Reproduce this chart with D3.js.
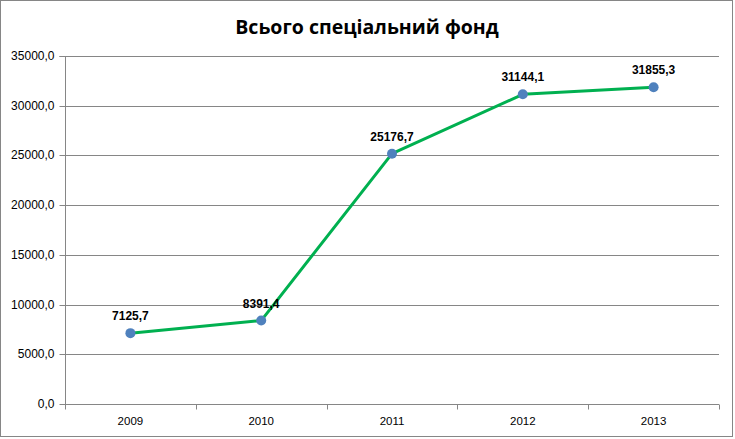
<!DOCTYPE html>
<html><head><meta charset="utf-8">
<script src="https://cdn.jsdelivr.net/npm/d3@7"></script>
<style>body{margin:0;background:#fff}svg{display:block}</style>
</head><body>
<script>
const title = "Всього спеціальний фонд";
const categories = ["2009","2010","2011","2012","2013"];
const values = [7125.7, 8391.4, 25176.7, 31144.1, 31855.3];
const yTicks = [0,5000,10000,15000,20000,25000,30000,35000];

const W = 735, H = 439;
const m = {left:65, right:16, top:56, bottom:35};
const svg = d3.select("body").append("svg").attr("width",W).attr("height",H);
svg.append("rect").attr("x",0.5).attr("y",0.5).attr("width",W-3).attr("height",H-3)
  .attr("fill","#fff").attr("stroke","#868686");

const fmt = v => d3.format(".1f")(v).replace(".", ",");
const x = d3.scaleBand().domain(categories).range([m.left, W-m.right]);
const y = d3.scaleLinear().domain([0,35000]).range([H-m.bottom, m.top]);
const font = "Liberation Sans, Arial, sans-serif";

// grid
svg.append("g").selectAll("line").data(yTicks.filter(d=>d>0)).join("line")
  .attr("x1",m.left).attr("x2",W-m.right)
  .attr("y1",d=>Math.round(y(d))+0.5).attr("y2",d=>Math.round(y(d))+0.5)
  .attr("stroke","#868686");

// y axis
const ya = svg.append("g").attr("transform",`translate(${m.left+0.5},0.5)`)
  .call(d3.axisLeft(y).tickValues(yTicks).tickFormat(fmt).tickSize(6).tickPadding(5));
ya.select(".domain").attr("stroke","#868686").attr("d",`M-6,${Math.round(y(35000))}H0V${Math.round(y(0))}`);
ya.selectAll(".tick line").attr("stroke","#868686");
ya.selectAll("text").attr("font-family",font).attr("font-size",12).attr("fill","#000");
ya.selectAll(".tick").attr("transform",d=>`translate(0,${Math.round(y(d))})`);

// x axis
const xa = svg.append("g").attr("transform",`translate(0,${Math.round(y(0))+0.5})`)
  .call(d3.axisBottom(x).tickSize(0).tickPadding(12));
xa.select(".domain").attr("stroke","#868686").attr("d",`M${m.left},0H${W-m.right}`);
xa.selectAll("text").attr("font-family",font).attr("font-size",11.5).attr("fill","#000");
const bounds = categories.map(c=>x(c)).concat([W-m.right]);
xa.append("g").selectAll("line").data(bounds).join("line")
  .attr("x1",d=>Math.round(d)+0.5).attr("x2",d=>Math.round(d)+0.5)
  .attr("y1",0).attr("y2",5).attr("stroke","#868686");

// line
const cx = c => x(c)+x.bandwidth()/2;
svg.append("path").datum(values)
  .attr("d", d3.line().x((d,i)=>cx(categories[i])).y(d=>y(d)))
  .attr("fill","none").attr("stroke","#00B050").attr("stroke-width",3).attr("stroke-linejoin","round");
svg.append("g").selectAll("circle").data(values).join("circle")
  .attr("cx",(d,i)=>cx(categories[i])).attr("cy",d=>y(d)).attr("r",5)
  .attr("fill","#4F81BD");
svg.append("g").selectAll("text").data(values).join("text")
  .attr("x",(d,i)=>cx(categories[i])).attr("y",d=>y(d)-13)
  .attr("text-anchor","middle").attr("font-family",font).attr("font-weight","bold")
  .attr("font-size",12).text(fmt);

svg.append("text").attr("x",367).attr("y",34).attr("text-anchor","middle")
  .attr("font-family","Open Sans, sans-serif").attr("font-weight","bold").attr("font-size",19.5)
  .text(title);
</script>
</body></html>
